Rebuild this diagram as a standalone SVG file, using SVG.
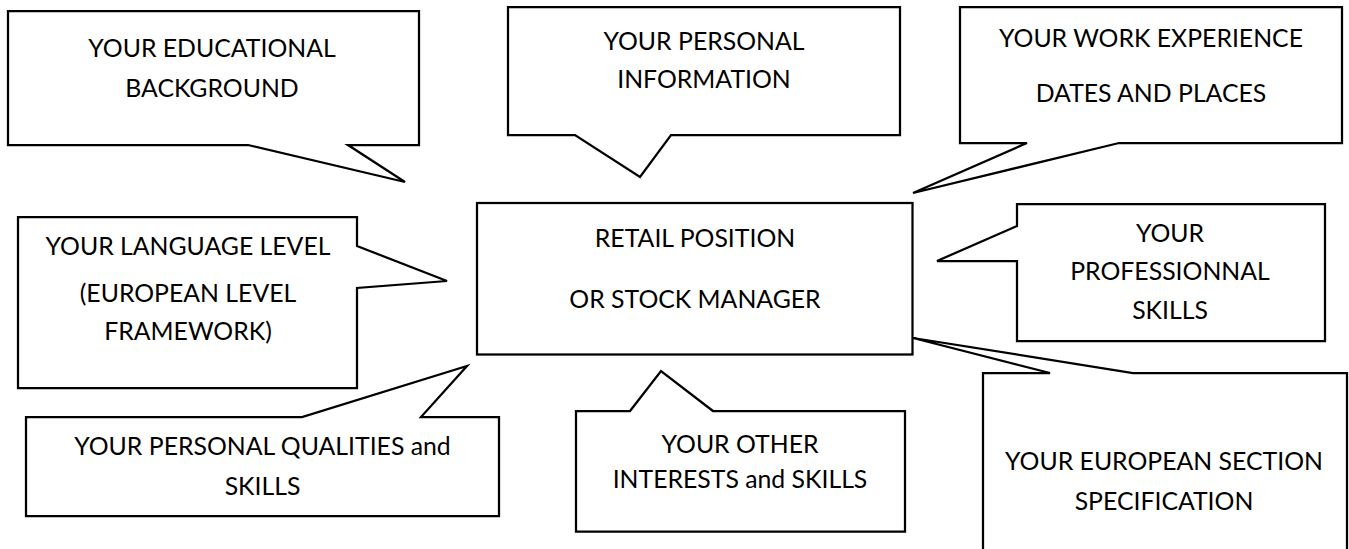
<svg xmlns="http://www.w3.org/2000/svg" width="1349" height="549" viewBox="0 0 1349 549">
  <style>
    .shape { fill: #ffffff; stroke: #000000; stroke-width: 2.25; stroke-linejoin: miter; }
    .label { font-family: Lato, "Open Sans", "Liberation Sans", sans-serif; font-size: 24.8px; fill: #000000; text-anchor: middle; }
  </style>
  <rect x="0" y="0" width="1349" height="549" fill="#ffffff"/>

  <!-- Educational background: callout pointing down-right -->
  <g id="educational">
    <path class="shape" d="M8,11 H419 V145 H348 L405,182 L248,145 H8 Z"/>
    <text class="label" x="212" y="57">YOUR EDUCATIONAL</text>
    <text class="label" x="212" y="97">BACKGROUND</text>
  </g>

  <!-- Personal information: callout pointing down -->
  <g id="personal-info">
    <path class="shape" d="M508,7 H900 V135 H671 L640,177 L575,135 H508 Z"/>
    <text class="label" x="704" y="50">YOUR PERSONAL</text>
    <text class="label" x="704" y="88">INFORMATION</text>
  </g>

  <!-- Work experience: callout pointing down-left -->
  <g id="work-experience">
    <path class="shape" d="M960,7 H1342 V143 H1119 L913,193 L1027,143 H960 Z"/>
    <text class="label" x="1151" y="46.5">YOUR WORK EXPERIENCE</text>
    <text class="label" x="1151" y="101.5">DATES AND PLACES</text>
  </g>

  <!-- Language level: callout pointing right -->
  <g id="language-level">
    <path class="shape" d="M18,217 H357 V246 L447,281 L357,288 V388 H18 Z"/>
    <text class="label" x="188" y="255">YOUR LANGUAGE LEVEL</text>
    <text class="label" x="188" y="301.5">(EUROPEAN LEVEL</text>
    <text class="label" x="188" y="340">FRAMEWORK)</text>
  </g>

  <!-- Central position box -->
  <g id="position">
    <rect class="shape" x="477" y="203" width="435.5" height="151.5"/>
    <text class="label" x="695" y="246.5">RETAIL POSITION</text>
    <text class="label" x="695" y="308">OR STOCK MANAGER</text>
  </g>

  <!-- Professional skills: callout pointing left -->
  <g id="professional-skills">
    <path class="shape" d="M1017,204 H1325 V341 H1017 V261 H937 L1017,226 Z"/>
    <text class="label" x="1170" y="241.5">YOUR</text>
    <text class="label" x="1170" y="280">PROFESSIONNAL</text>
    <text class="label" x="1170" y="318.5">SKILLS</text>
  </g>

  <!-- Personal qualities: callout pointing up-right -->
  <g id="personal-qualities">
    <path class="shape" d="M26,417 H302 L467,366 L421,417 H499 V516 H26 Z"/>
    <text class="label" x="262.5" y="455">YOUR PERSONAL QUALITIES and</text>
    <text class="label" x="262.5" y="495">SKILLS</text>
  </g>

  <!-- Other interests: callout pointing up -->
  <g id="other-interests">
    <path class="shape" d="M576,411 H630 L661,371 L713,411 H905 V531.5 H576 Z"/>
    <text class="label" x="740" y="453">YOUR OTHER</text>
    <text class="label" x="740" y="488">INTERESTS and SKILLS</text>
  </g>

  <!-- European section: callout pointing up-left, runs off the bottom edge -->
  <g id="european-section">
    <path class="shape" d="M983,373 H1050 L913,338 L1133,373 H1347 V560 H983 Z"/>
    <text class="label" x="1164" y="470">YOUR EUROPEAN SECTION</text>
    <text class="label" x="1164" y="510">SPECIFICATION</text>
  </g>
</svg>
